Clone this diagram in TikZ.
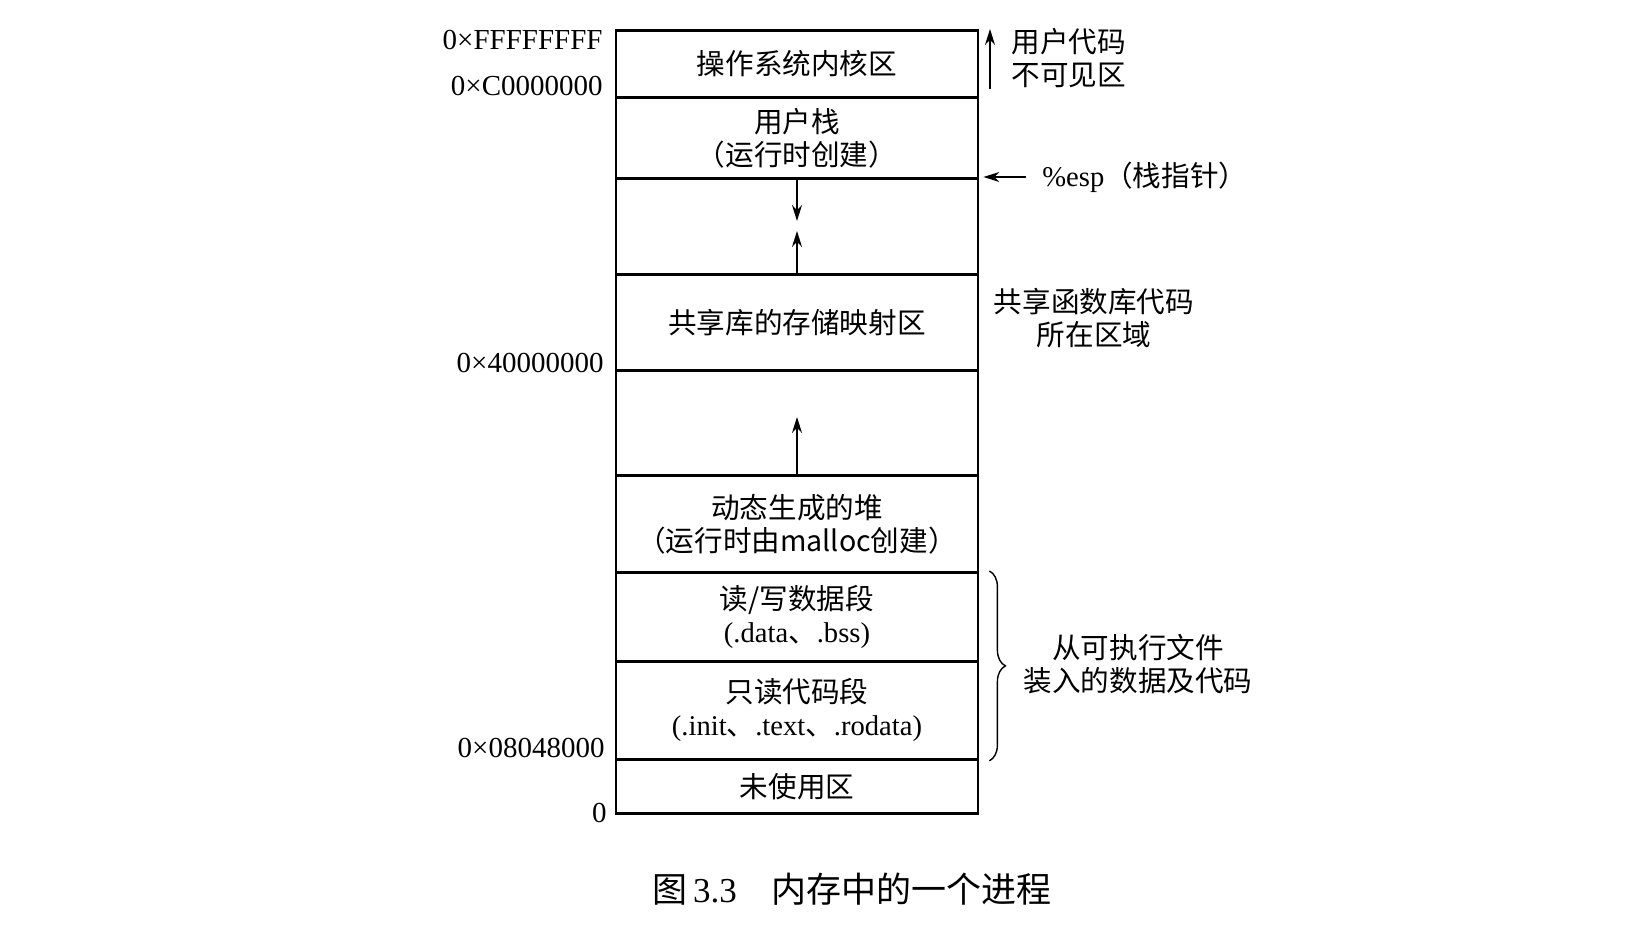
\documentclass[tikz,border=0pt]{standalone}
\usepackage{fontspec}
\setmainfont{Liberation Serif}
\newfontfamily\cjk{Noto Sans CJK SC}
\usetikzlibrary{arrows.meta,positioning,decorations.pathreplacing}

\tikzset{
  region/.style={draw, line width=1.4pt, minimum width=181pt, inner sep=0pt,
    anchor=north, align=center, font=\cjk\fontsize{14.3}{16.5}\selectfont},
  addr/.style={anchor=east, inner sep=0pt, font=\fontsize{14.5}{17}\selectfont},
  note/.style={align=center, inner sep=0pt, font=\cjk\fontsize{14.3}{16.5}\selectfont},
  arr/.style={-{Stealth[length=8pt,width=5pt]}, line width=0.8pt}
}

\begin{document}
\begin{tikzpicture}[x=0.5pt, y=-0.5pt]
  \useasboundingbox (0,0) rectangle (1634,930);

  % memory regions, top to bottom
  \node[region, minimum height=33.5pt] (kernel) at (797,29) {操作系统内核区};
  \node[region, minimum height=40.5pt] (stack)  at (797,96) {用户栈\\（运行时创建）};
  \node[region, minimum height=48pt]   (gap1)   at (797,177) {};
  \node[region, minimum height=48pt]   (shlib)  at (797,273) {共享库的存储映射区};
  \node[region, minimum height=52.5pt] (gap2)   at (797,369) {};
  \node[region, minimum height=48.5pt] (heap)   at (797,474) {动态生成的堆\\（运行时由malloc创建）};
  \node[region, minimum height=44.5pt] (rw)     at (797,571)
    {读/写数据段\\{\rmfamily(.data}、{\rmfamily.bss)}};
  \node[region, minimum height=49pt]   (ro)     at (797,660)
    {只读代码段\\{\rmfamily(.init}、{\rmfamily.text}、{\rmfamily.rodata)}};
  \node[region, minimum height=27pt]   (unused) at (797,758) {未使用区};

  % growth arrows
  \coordinate (stkend)  at (797,221);
  \coordinate (mapend)  at (797,231);
  \coordinate (heapend) at (797,417);
  \draw[arr] (gap1.north) -- (stkend);
  \draw[arr] (gap1.south) -- (mapend);
  \draw[arr] (gap2.south) -- (heapend);

  % addresses
  \node[addr] (aF) at (603,40)  {0×FFFFFFFF};
  \node[addr] (aC) at (603,86)  {0×C0000000};
  \node[addr] (a4) at (604,363) {0×40000000};
  \node[addr] (a0) at (605,748) {0×08048000};
  \node[addr] (z)  at (607,813) {0};

  % right side notes
  \node[note, anchor=west] (hidden) at (1011,58) {用户代码\\不可见区};
  \coordinate (hidbot) at (990,89);
  \coordinate (hidtop) at (990,29);
  \draw[arr] (hidbot) -- (hidtop);

  \node[note, anchor=west] (esp) at (1042,177) {{\rmfamily\%esp}（栈指针）};
  \draw[arr] ([xshift=-8pt]esp.west) -- ([xshift=2pt]gap1.north east);

  \node[note] (shnote) at (1094,318) {共享函数库代码\\所在区域};

  \draw[line width=0.7pt, decorate, decoration={brace, amplitude=8pt}]
    ([xshift=5pt]rw.north east) -- ([xshift=5pt]ro.south east);
  \node[note] (exenote) at (1138,664) {从可执行文件\\装入的数据及代码};

  % caption
  \node[inner sep=0pt, font=\fontsize{17.5}{20}\selectfont] (cap) at (852,889)
    {{\cjk 图}\,3.3\quad{\cjk 内存中的一个进程}};
\end{tikzpicture}
\end{document}
